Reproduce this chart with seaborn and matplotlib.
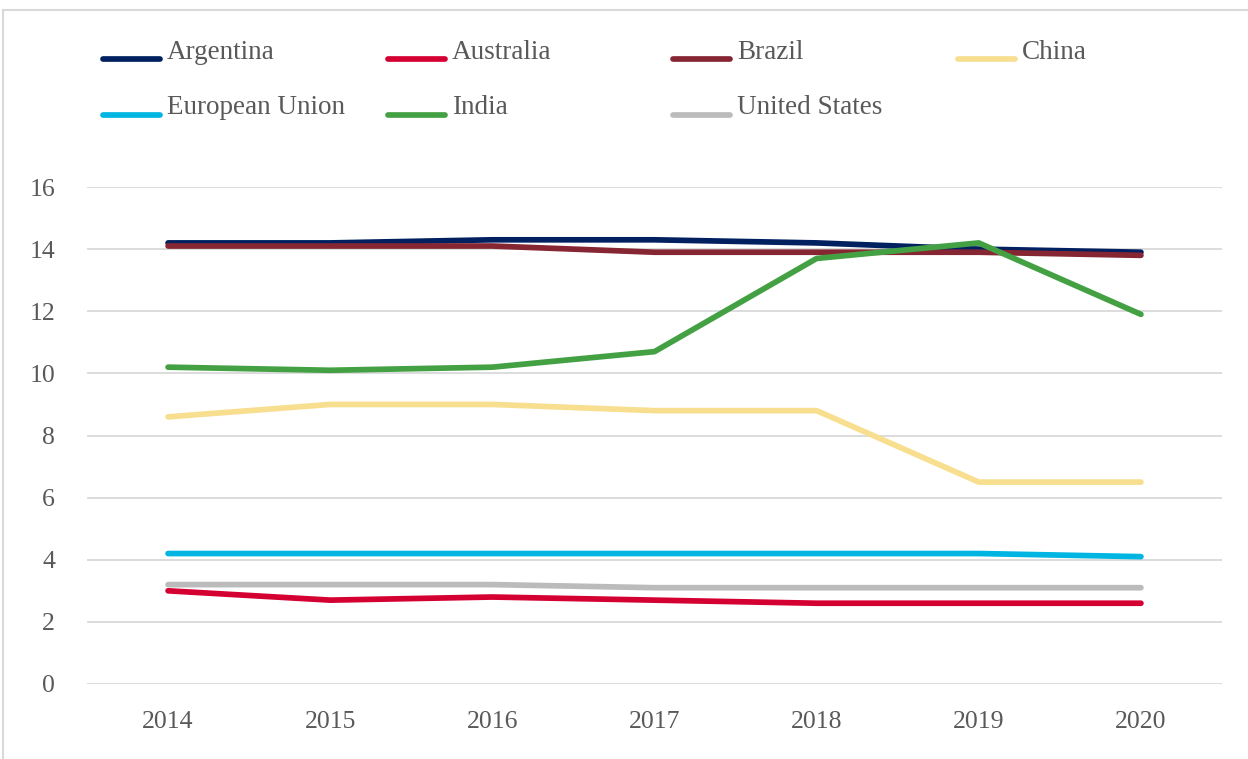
import matplotlib
matplotlib.use("Agg")
import matplotlib.pyplot as plt
import seaborn as sns
import pandas as pd
from matplotlib.lines import Line2D

years = ["2014", "2015", "2016", "2017", "2018", "2019", "2020"]
argentina = [14.2, 14.2, 14.3, 14.3, 14.2, 14.0, 13.9]
australia = [3.0, 2.7, 2.8, 2.7, 2.6, 2.6, 2.6]
brazil = [14.1, 14.1, 14.1, 13.9, 13.9, 13.9, 13.8]
china = [8.6, 9.0, 9.0, 8.8, 8.8, 6.5, 6.5]
eu = [4.2, 4.2, 4.2, 4.2, 4.2, 4.2, 4.1]
india = [10.2, 10.1, 10.2, 10.7, 13.7, 14.2, 11.9]
us = [3.2, 3.2, 3.2, 3.1, 3.1, 3.1, 3.1]

series = {
    "Argentina": argentina,
    "Australia": australia,
    "Brazil": brazil,
    "China": china,
    "European Union": eu,
    "India": india,
    "United States": us,
}
colors = {
    "Argentina": "#002060",
    "Australia": "#D50032",
    "Brazil": "#862633",
    "China": "#F8DF8F",
    "European Union": "#00B5E2",
    "India": "#43A143",
    "United States": "#BBBBBB",
}

rows = []
for name, vals in series.items():
    for y, v in zip(years, vals):
        rows.append({"Year": y, "Value": v, "Country": name})
df = pd.DataFrame(rows)

sns.set_style("white")
plt.rcParams["font.family"] = ["Liberation Serif", "DejaVu Serif"]

W, H = 1248, 759
fig = plt.figure(figsize=(W / 100, H / 100), dpi=100)
ax = fig.add_axes([87 / W, 75 / H, (1222 - 87) / W, (684 - 187) / H])

sns.lineplot(data=df, x="Year", y="Value", hue="Country", palette=colors,
             hue_order=list(series.keys()), linewidth=4.1, ax=ax, legend=False,
             solid_capstyle="round", sort=False)

ax.set_xlim(-0.5, 6.5)
ax.set_ylim(0, 16)
ax.set_yticks([0, 2, 4, 6, 8, 10, 12, 14, 16])
ax.yaxis.grid(True, color="#D9D9D9", linewidth=1.3)
ax.xaxis.grid(False)
ax.set_axisbelow(True)
for s in ax.spines.values():
    s.set_visible(False)
ax.set_xlabel("")
ax.set_ylabel("")
ax.tick_params(axis="both", length=0, labelsize=18.5, labelcolor="#595959")
ax.tick_params(axis="x", pad=19.5)
ax.tick_params(axis="y", pad=23)

# legend entries placed on a grid (handle line + label text on its baseline)
names = list(series.keys())
col_x = [100, 385, 670, 955]
handle_y = [58.5, 114.5]
text_y = [59, 114]
for i, name in enumerate(names):
    c, r = i % 4, i // 4
    x0 = col_x[c]
    fig.add_artist(Line2D([(x0 + 3) / W, (x0 + 60) / W],
                          [1 - handle_y[r] / H, 1 - handle_y[r] / H],
                          color=colors[name], linewidth=4.1,
                          solid_capstyle="round", transform=fig.transFigure))
    fig.text((x0 + 67) / W, 1 - text_y[r] / H, name, fontsize=19.5,
             color="#595959", ha="left", va="baseline")

# frame lines
fig.add_artist(Line2D([3 / W, 1], [749 / H, 749 / H], color="#D9D9D9",
                      linewidth=1.5, transform=fig.transFigure))
fig.add_artist(Line2D([3 / W, 3 / W], [0, 749 / H], color="#D9D9D9",
                      linewidth=1.5, transform=fig.transFigure))

fig.savefig("out.png", dpi=100)
